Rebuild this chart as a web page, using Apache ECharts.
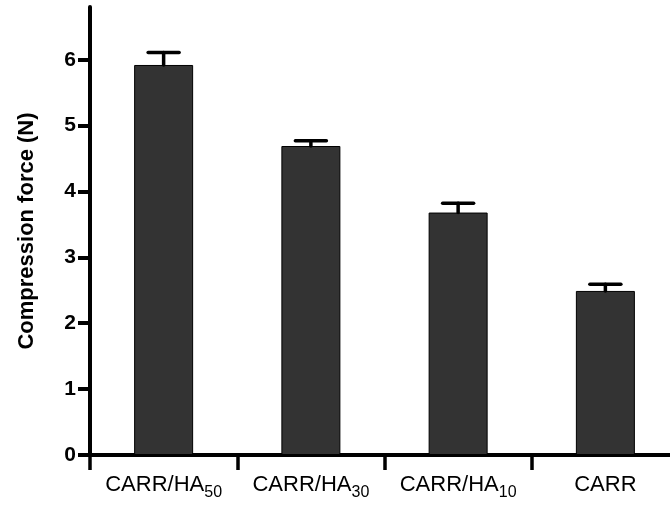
<!DOCTYPE html>
<html>
<head>
<meta charset="utf-8">
<script src="https://cdn.jsdelivr.net/npm/echarts@6/dist/echarts.min.js"></script>
<style>html,body{margin:0;padding:0;background:#fff}#c{width:670px;height:508px}</style>
</head>
<body>
<div id="c"></div>
<script>
var categoryBase = ['CARR/HA', 'CARR/HA', 'CARR/HA', 'CARR'];
var categorySub = ['50', '30', '10', ''];
var forceValues = [5.92, 4.69, 3.68, 2.49];
var forceErrors = [0.19, 0.08, 0.14, 0.10];
var yTicks = [0, 1, 2, 3, 4, 5, 6];

var categories = categoryBase.map(function (b, i) { return b + categorySub[i]; });
var errData = forceValues.map(function (v, i) { return [i, v, v + forceErrors[i]]; });

var chart = echarts.init(document.getElementById('c'), null, {renderer: 'canvas'});
chart.setOption({
  animation: false,
  backgroundColor: '#fff',
  grid: {left: 90, width: 589, top: 7, bottom: 53, containLabel: false, outerBoundsMode: 'none'},
  xAxis: {
    type: 'category',
    data: categories,
    boundaryGap: true,
    axisLine: {lineStyle: {color: '#000', width: 4}},
    axisTick: {show: true, interval: 0, inside: false, length: 15, lineStyle: {color: '#000', width: 3.5}},
    axisLabel: {
      interval: 0,
      hideOverlap: false,
      margin: 14,
      color: '#000',
      fontFamily: 'Liberation Sans',
      fontSize: 22,
      formatter: function (v, i) {
        return '{b|' + categoryBase[i] + '}' + (categorySub[i] ? '{sub|' + categorySub[i] + '}' : '');
      },
      rich: {
        b: {fontSize: 22, fontFamily: 'Liberation Sans', color: '#000', lineHeight: 32},
        sub: {fontSize: 16, fontFamily: 'Liberation Sans', color: '#000', lineHeight: 16, padding: [16, 0, 0, 0]}
      }
    }
  },
  yAxis: {
    type: 'value',
    min: 0,
    max: 6.8,
    interval: 1,
    name: 'Compression force (N)',
    nameLocation: 'middle',
    nameGap: 52,
    nameTextStyle: {fontFamily: 'Liberation Sans', fontWeight: 'bold', fontSize: 22, color: '#000'},
    splitLine: {show: false},
    axisLine: {show: true, lineStyle: {color: '#000', width: 4}},
    axisTick: {show: true, length: 12, customValues: yTicks, lineStyle: {color: '#000', width: 4}},
    axisLabel: {
      customValues: yTicks,
      margin: 14,
      color: '#000',
      fontFamily: 'Liberation Sans',
      fontWeight: 'bold',
      fontSize: 21
    }
  },
  series: [
    {
      type: 'bar',
      data: forceValues,
      barWidth: 59,
      itemStyle: {color: '#333333', borderColor: '#000', borderWidth: 1}
    },
    {
      type: 'custom',
      data: errData,
      z: 5,
      renderItem: function (params, api) {
        var x = api.value(0);
        var base = api.coord([x, api.value(1)]);
        var top = api.coord([x, api.value(2)]);
        var half = 15.5;
        var style = {stroke: '#000', lineWidth: 3.5, lineCap: 'round'};
        return {
          type: 'group',
          children: [
            {type: 'line', shape: {x1: base[0], y1: base[1], x2: top[0], y2: top[1]}, style: style},
            {type: 'line', shape: {x1: top[0] - half, y1: top[1], x2: top[0] + half, y2: top[1]}, style: style}
          ]
        };
      }
    }
  ]
});
</script>
</body>
</html>
